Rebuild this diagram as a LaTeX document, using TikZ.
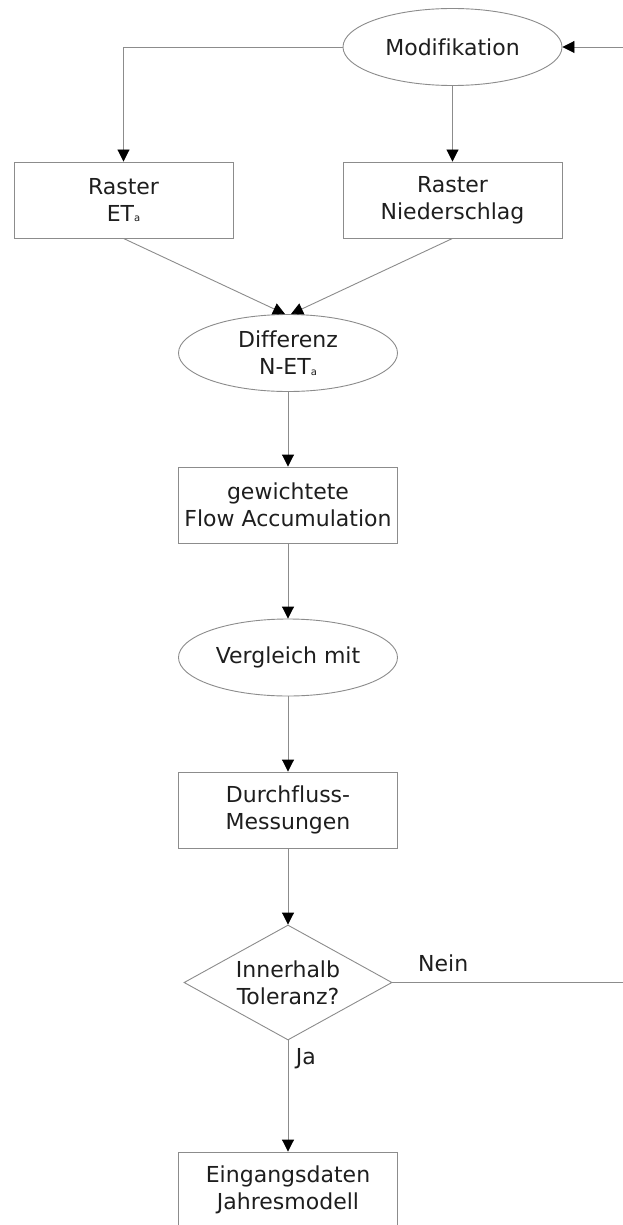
\documentclass[tikz,border=0pt]{standalone}
\usepackage{fontspec}
\setmainfont[Ligatures={NoCommon}]{DejaVu Sans}
\usetikzlibrary{arrows.meta,shapes.geometric}
\definecolor{linegray}{HTML}{8C8C8C}
\definecolor{ink}{HTML}{1E1E1E}
\newcommand\subA{\raisebox{-0.5pt}{\fontsize{10}{10}\selectfont a}}
\begin{document}
\begin{tikzpicture}[x=1pt,y=-1pt,
  every node/.style={text=ink,font=\fontsize{22}{27}\selectfont,align=center},
  box/.style={draw=linegray,line width=0.9pt,rectangle,minimum width=219pt,minimum height=76pt,inner sep=0pt},
  oval/.style={draw=linegray,line width=0.9pt,ellipse,minimum width=219pt,minimum height=77pt,inner sep=0pt},
  decide/.style={draw=linegray,line width=0.9pt,diamond,aspect=1.8,minimum width=208pt,minimum height=115pt,inner sep=0pt},
  flow/.style={draw=linegray,line width=0.9pt,-{Triangle[length=12pt,width=12pt,color=black]}},
  plain/.style={draw=linegray,line width=0.9pt}]
\clip (0,0) rectangle (623,1225);
\fill[white] (0,0) rectangle (623,1225);

% nodes
\node[oval]  (mod)   at (452.5,47)  {Modifikation};
\node[box]   (ras1)  at (123.5,200) {Raster\\ET\subA};
\node[box]   (ras2)  at (452.5,200) {Raster\\Niederschlag};
\node[oval]  (dif)   at (288,353)   {Differenz\\N-ET\subA};
\node[box]   (acc)   at (288,505)   {gewichtete\\Flow Accumulation};
\node[oval]  (verg)  at (288,657.5) {Vergleich mit};
\node[box]   (meas)  at (288,810)   {Durchfluss-\\Messungen};
\node[decide](dec)   at (288,982.5) {Innerhalb\\Toleranz?};
\node[box]   (out)   at (288,1190)  {Eingangsdaten\\Jahresmodell};

\coordinate (inR)  at (623,47);
\coordinate (outR) at (623,982.5);

% connectors
\draw[flow] (inR) -- (mod.east);
\draw[flow] (mod.west) -| (ras1.north);
\draw[flow] (mod.south) -- (ras2.north);
\draw[flow] (ras1.south) -- ([xshift=-3pt]dif.north);
\draw[flow] (ras2.south) -- ([xshift=3pt]dif.north);
\draw[flow] (dif.south) -- (acc.north);
\draw[flow] (acc.south) -- (verg.north);
\draw[flow] (verg.south) -- (meas.north);
\draw[flow] (meas.south) -- (dec.north);
\draw[plain] (dec.east) -- (outR) node[pos=0.22,above=7pt] {Nein};
\draw[flow] (dec.south) -- (out.north) node[pos=0.16,right=4pt] {Ja};
\end{tikzpicture}
\end{document}
